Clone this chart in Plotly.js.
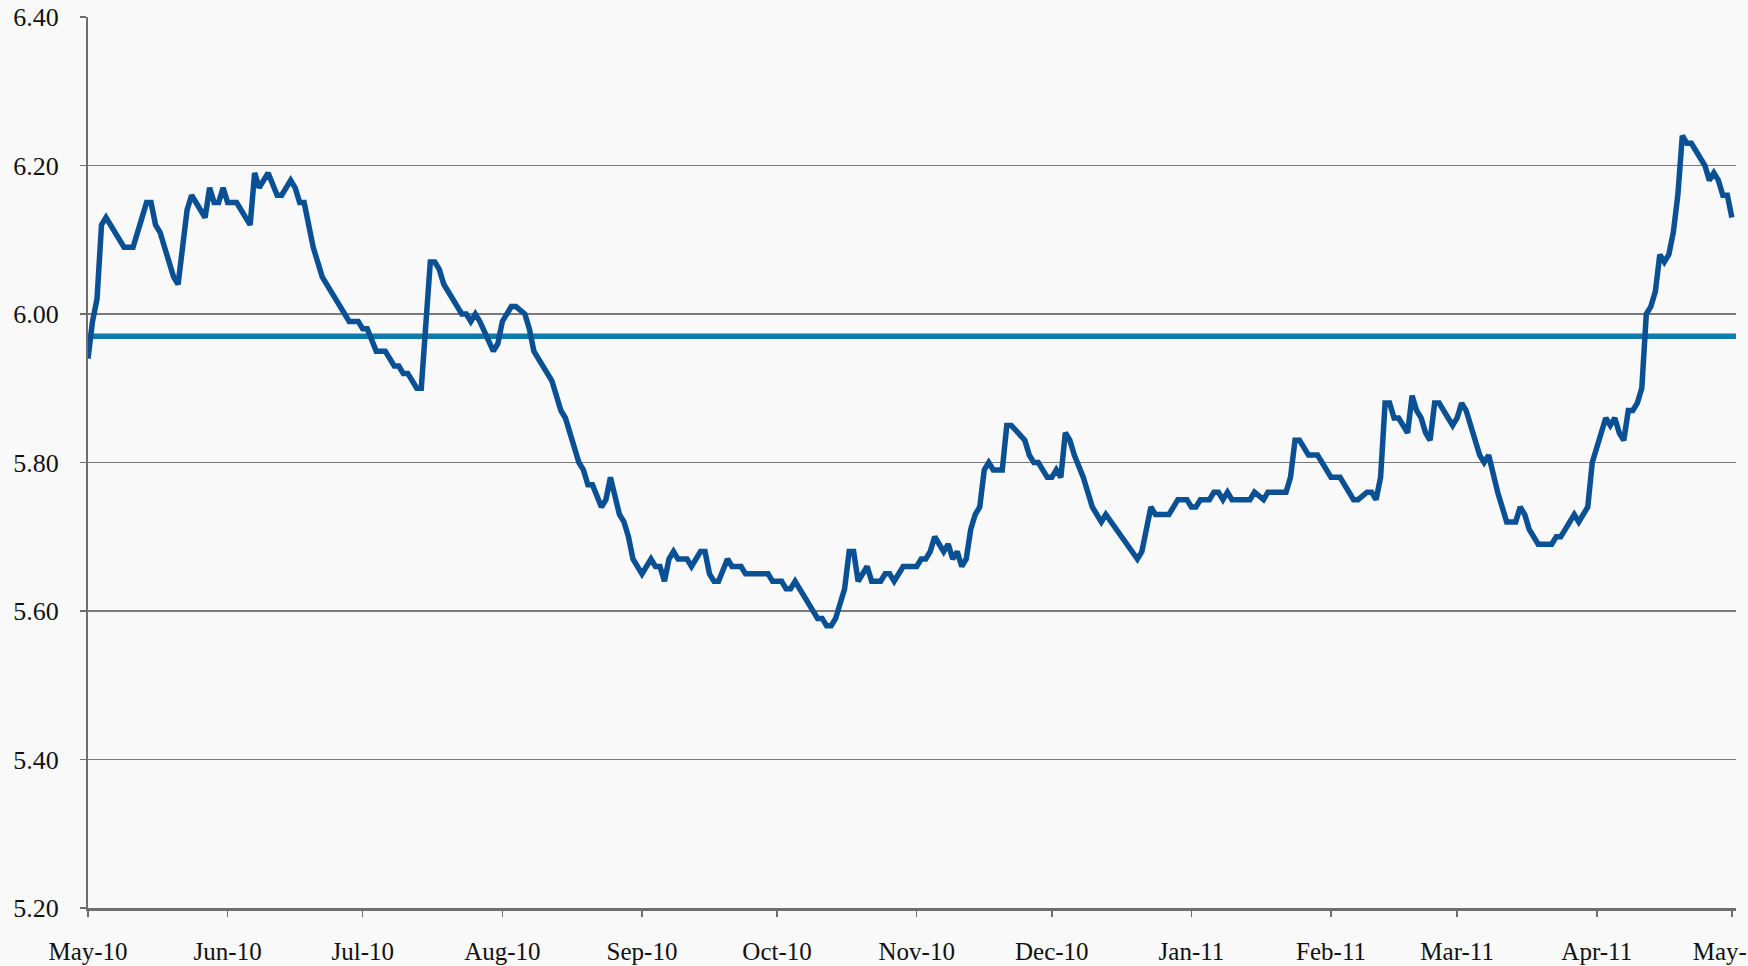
<!DOCTYPE html>
<html>
<head>
<meta charset="utf-8">
<script src="https://cdn.plot.ly/plotly-3.0.1.min.js"></script>
<style>
  html, body { margin: 0; padding: 0; background: #f9f9f9; }
  #chart { width: 1748px; height: 966px; }
</style>
</head>
<body>
<div id="chart"></div>
<script>
// Series start date; observations are given as days since this date
const startDate = "2010-05-01";

const dayOffsets = [
  0, 1, 2, 3, 4, 8, 10, 13, 14, 15, 16, 19, 20, 22, 23, 26, 27, 28, 29, 30,
  31, 33, 36, 37, 38, 40, 42, 43, 45, 46, 47, 48, 50, 52, 58, 60, 61, 62, 64, 66,
  68, 69, 70, 71, 73, 74, 76, 77, 78, 79, 83, 84, 85, 86, 87, 90, 91, 92, 94, 95,
  97, 98, 99, 103, 105, 106, 109, 110, 111, 112, 114, 115, 116, 118, 119, 120, 121, 123, 125, 126,
  127, 128, 129, 130, 131, 133, 134, 136, 137, 138, 139, 140, 142, 143, 145, 146, 151, 152, 154, 155,
  156, 157, 162, 163, 164, 165, 166, 168, 169, 170, 171, 173, 174, 176, 177, 178, 179, 181, 184, 185,
  186, 187, 188, 190, 191, 192, 193, 194, 195, 196, 197, 198, 199, 200, 201, 203, 204, 205, 208, 209,
  210, 211, 213, 214, 215, 216, 217, 218, 219, 221, 222, 223, 225, 226, 233, 234, 236, 237, 240, 242,
  244, 245, 246, 247, 249, 250, 251, 252, 253, 254, 258, 259, 261, 262, 266, 267, 268, 269, 271, 273,
  276, 278, 281, 282, 284, 285, 286, 287, 288, 289, 290, 291, 293, 294, 295, 296, 297, 298, 299, 300,
  302, 303, 304, 305, 306, 308, 309, 310, 311, 313, 314, 315, 317, 318, 319, 320, 322, 325, 326, 327,
  328, 330, 331, 333, 334, 335, 337, 338, 339, 340, 341, 342, 343, 344, 345, 346, 347, 348, 349, 350,
  351, 352, 353, 354, 355, 356, 358, 359, 360, 361, 362, 363, 364, 365
];

const rateValues = [
  5.94, 5.99, 6.02, 6.12, 6.13, 6.09, 6.09, 6.15, 6.15, 6.12, 6.11, 6.05, 6.04, 6.14, 6.16, 6.13, 6.17, 6.15, 6.15, 6.17,
  6.15, 6.15, 6.12, 6.19, 6.17, 6.19, 6.16, 6.16, 6.18, 6.17, 6.15, 6.15, 6.09, 6.05, 5.99, 5.99, 5.98, 5.98, 5.95, 5.95,
  5.93, 5.93, 5.92, 5.92, 5.90, 5.90, 6.07, 6.07, 6.06, 6.04, 6.00, 6.00, 5.99, 6.00, 5.99, 5.95, 5.96, 5.99, 6.01, 6.01,
  6.00, 5.98, 5.95, 5.91, 5.87, 5.86, 5.80, 5.79, 5.77, 5.77, 5.74, 5.75, 5.78, 5.73, 5.72, 5.70, 5.67, 5.65, 5.67, 5.66,
  5.66, 5.64, 5.67, 5.68, 5.67, 5.67, 5.66, 5.68, 5.68, 5.65, 5.64, 5.64, 5.67, 5.66, 5.66, 5.65, 5.65, 5.64, 5.64, 5.63,
  5.63, 5.64, 5.59, 5.59, 5.58, 5.58, 5.59, 5.63, 5.68, 5.68, 5.64, 5.66, 5.64, 5.64, 5.65, 5.65, 5.64, 5.66, 5.66, 5.67,
  5.67, 5.68, 5.70, 5.68, 5.69, 5.67, 5.68, 5.66, 5.67, 5.71, 5.73, 5.74, 5.79, 5.80, 5.79, 5.79, 5.85, 5.85, 5.83, 5.81,
  5.80, 5.80, 5.78, 5.78, 5.79, 5.78, 5.84, 5.83, 5.81, 5.78, 5.76, 5.74, 5.72, 5.73, 5.67, 5.68, 5.74, 5.73, 5.73, 5.75,
  5.75, 5.74, 5.74, 5.75, 5.75, 5.76, 5.76, 5.75, 5.76, 5.75, 5.75, 5.76, 5.75, 5.76, 5.76, 5.78, 5.83, 5.83, 5.81, 5.81,
  5.78, 5.78, 5.75, 5.75, 5.76, 5.76, 5.75, 5.78, 5.88, 5.88, 5.86, 5.86, 5.84, 5.89, 5.87, 5.86, 5.84, 5.83, 5.88, 5.88,
  5.86, 5.85, 5.86, 5.88, 5.87, 5.83, 5.81, 5.80, 5.81, 5.76, 5.74, 5.72, 5.72, 5.74, 5.73, 5.71, 5.69, 5.69, 5.70, 5.70,
  5.71, 5.73, 5.72, 5.74, 5.80, 5.82, 5.86, 5.85, 5.86, 5.84, 5.83, 5.87, 5.87, 5.88, 5.90, 6.00, 6.01, 6.03, 6.08, 6.07,
  6.08, 6.11, 6.16, 6.24, 6.23, 6.23, 6.21, 6.20, 6.18, 6.19, 6.18, 6.16, 6.16, 6.13
];

// Period average (horizontal reference line)
const averageValue = 5.97;

// Axis settings
const xRange = ["2010-05-01", "2011-05-01 22:00"];
const yTickValues = [5.20, 5.40, 5.60, 5.80, 6.00, 6.20, 6.40];

// Build date strings from offsets
const base = Date.UTC(2010, 4, 1);
const dates = dayOffsets.map(d => {
  const t = new Date(base + d * 86400000);
  return t.toISOString().slice(0, 10);
});

const fontFamily = '"Liberation Serif", "DejaVu Serif", serif';

const traces = [
  {
    x: xRange,
    y: [averageValue, averageValue],
    type: 'scatter',
    mode: 'lines',
    line: { color: '#1379a9', width: 5.5 },
    hoverinfo: 'skip',
    showlegend: false
  },
  {
    x: dates,
    y: rateValues,
    type: 'scatter',
    mode: 'lines',
    line: { color: '#0a5094', width: 5.5, shape: 'linear' },
    showlegend: false
  }
];

const layout = {
  width: 1748,
  height: 966,
  margin: { l: 88, r: 12, t: 17, b: 58, pad: 0 },
  paper_bgcolor: '#f9f9f9',
  plot_bgcolor: '#f9f9f9',
  showlegend: false,
  font: { family: fontFamily, size: 25, color: '#111111' },
  xaxis: {
    type: 'date',
    range: xRange,
    tick0: '2010-05-01',
    dtick: 'M1',
    tickformat: '%b-%y',
    showgrid: false,
    zeroline: false,
    showline: true,
    linecolor: '#6e6e6e',
    linewidth: 2.5,
    ticks: 'outside',
    ticklen: 6,
    tickwidth: 1.5,
    tickcolor: '#6e6e6e',
    ticklabelstandoff: 13,
    ticklabeloverflow: 'allow',
    tickfont: { family: fontFamily, size: 25, color: '#111111' }
  },
  yaxis: {
    range: [5.2, 6.4],
    tickmode: 'array',
    tickvals: yTickValues,
    ticktext: yTickValues.map(v => v.toFixed(2)),
    showgrid: true,
    gridcolor: '#7a7a7a',
    gridwidth: 1.5,
    zeroline: false,
    showline: true,
    linecolor: '#6e6e6e',
    linewidth: 2,
    ticks: 'outside',
    ticklen: 6,
    tickwidth: 1.5,
    tickcolor: '#6e6e6e',
    ticklabelstandoff: 16,
    tickfont: { family: fontFamily, size: 26, color: '#111111' }
  }
};

Plotly.newPlot('chart', traces, layout, { staticPlot: true, displayModeBar: false });
</script>
</body>
</html>
